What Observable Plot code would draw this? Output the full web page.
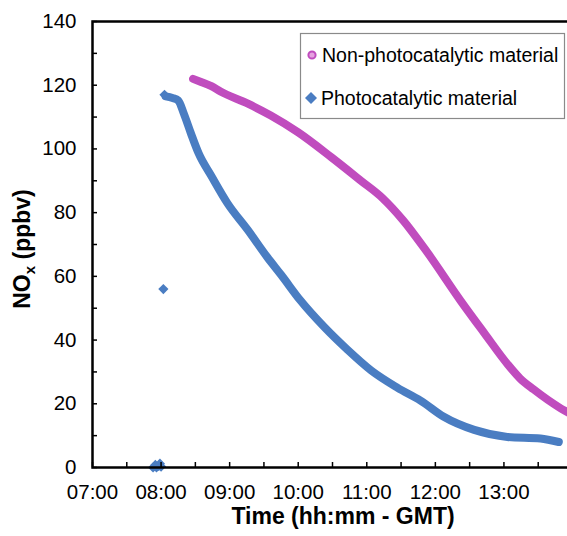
<!DOCTYPE html>
<html><head><meta charset="utf-8">
<script src="https://cdn.jsdelivr.net/npm/d3@7"></script>
<script src="https://cdn.jsdelivr.net/npm/@observablehq/plot@0.6"></script>
<style>
body{margin:0;background:#fff;overflow:hidden;}
#chart{position:relative;width:567px;height:536px;}
</style>
</head><body><div id="chart"></div>
<script>
// Non-photocatalytic material (time GMT, NOx ppbv)
const pinkTime = ["08:28","08:35","08:44","08:52","09:16","09:36","10:00","10:29","10:55","11:14","11:32","11:53","12:22","12:43","13:03","13:14","13:26","13:50","14:00"];
const pinkNOx  = [122,121,119.7,118,114.2,110.5,105.2,97.4,90,84.5,77.5,67.5,52.4,42.1,32.5,28,24.5,18.5,16.5];
// Photocatalytic material, continuous trace
const blueTime = ["08:04","08:10","08:15","08:20","08:26","08:33","08:44","08:58","09:16","09:33","09:45","10:02","10:23","10:43","11:04","11:27","11:47","12:07","12:34","13:03","13:32","13:48"];
const blueNOx  = [116.5,116,115.2,111,105,98.5,91.5,83,74.5,66,60.5,52.4,44,37,30.4,25,21,16,11.8,9.6,9.1,8];
// Photocatalytic material, isolated points before the trace
const blueIsoTime = ["07:53","07:55","07:56","07:58","07:59","08:00","08:02","08:03"];
const blueIsoNOx  = [0,0.8,0,0.5,1.2,0.3,56,117];
// Axis ticks
const xTickHours = [7,8,9,10,11,12,13];
const yTickValues = [0,20,40,60,80,100,120,140];
const seriesNames = ["Non-photocatalytic material","Photocatalytic material"];
const xTitle = "Time (hh:mm - GMT)";

const pinkColor = "#C04CBE", blueColor = "#4A7DC2";
const FONT = "'Liberation Sans', Arial, sans-serif";
const toH = s => { const [h,m] = s.split(":").map(Number); return h + m/60; };
const pink = pinkTime.map((t,i)=>({t:toH(t), v:pinkNOx[i]}));
const blue = blueTime.map((t,i)=>({t:toH(t), v:blueNOx[i]}));
const blueIso = blueIsoTime.map((t,i)=>({t:toH(t), v:blueIsoNOx[i]}));
const xMinor = d3.range(7, 14.01, 0.5);
const yMinor = d3.range(0, 140.1, 10);

const W=567, H=536, mL=92, mR=-5, mT=21, mB=69;
const plotW = W - mL - mR, plotH = H - mT - mB;

const plot = Plot.plot({
  width: W, height: H,
  marginLeft: mL, marginRight: mR, marginTop: mT, marginBottom: mB,
  style: {fontFamily: FONT, fontSize: "20px", color: "#000", background: "#fff"},
  x: {domain: [7, 14]},
  y: {domain: [0, 140]},
  marks: [
    Plot.line(pink, {x: "t", y: "v", stroke: pinkColor, strokeWidth: 8, curve: "monotone-x", strokeLinecap: "round", strokeLinejoin: "round"}),
    Plot.line(blue, {x: "t", y: "v", stroke: blueColor, strokeWidth: 8, curve: "monotone-x", strokeLinecap: "round", strokeLinejoin: "round"}),
    Plot.dot(blueIso, {x: "t", y: "v", symbol: "diamond2", r: 4.6, fill: blueColor, stroke: "none"}),
    Plot.tickY(yMinor, {y: d => d, insetRight: plotW - 5, stroke: "#000", strokeWidth: 1.5}),
    Plot.tickX(xMinor, {x: d => d, insetTop: plotH - 5, stroke: "#000", strokeWidth: 1.5}),
    Plot.frame({stroke: "#000", strokeWidth: 2.5}),
    Plot.axisY(yTickValues, {tickSize: 0, tickPadding: 16, label: null, fontSize: 20.5}),
    Plot.axisX(xTickHours, {tickSize: 0, tickPadding: 17, label: null, fontSize: 20.5,
      tickFormat: d => String(d).padStart(2, "0") + ":00"}),
    Plot.text([xTitle], {text: d => d, frameAnchor: "bottom", dy: 56.6, dx: 10.5, fontWeight: "bold", fontSize: 23, fill: "#000"})
  ]
});

const svg = d3.select(plot);
// y-axis title with subscript
const yt = svg.append("text")
  .attr("transform", "translate(30,249) rotate(-90)")
  .attr("text-anchor", "middle")
  .attr("font-weight", "bold").attr("font-size", 23).attr("fill", "#000")
  .attr("font-family", FONT);
yt.append("tspan").text("NO");
yt.append("tspan").attr("font-size", 15).attr("dy", 5).text("x");
yt.append("tspan").attr("dy", -5).text(" (ppbv)");

// legend
const lg = svg.append("g").attr("font-family", FONT).attr("font-size", 19.5).attr("text-anchor", "start");
lg.append("rect").attr("x", 300.5).attr("y", 33.5).attr("width", 264).attr("height", 85)
  .attr("fill", "#fff").attr("stroke", "#8a8a8a").attr("stroke-width", 1.2);
lg.append("circle").attr("cx", 312).attr("cy", 55).attr("r", 3.6)
  .attr("fill", "#E6A2E0").attr("stroke", pinkColor).attr("stroke-width", 2);
lg.append("path").attr("d", "M311,92L317,98L311,104L305,98Z").attr("fill", blueColor);
lg.append("text").attr("x", 322).attr("y", 61.5).attr("text-anchor", "start").attr("fill", "#000").text(seriesNames[0]);
lg.append("text").attr("x", 321).attr("y", 105).attr("text-anchor", "start").attr("fill", "#000").text(seriesNames[1]);

document.getElementById("chart").appendChild(plot);
</script>
</body></html>
